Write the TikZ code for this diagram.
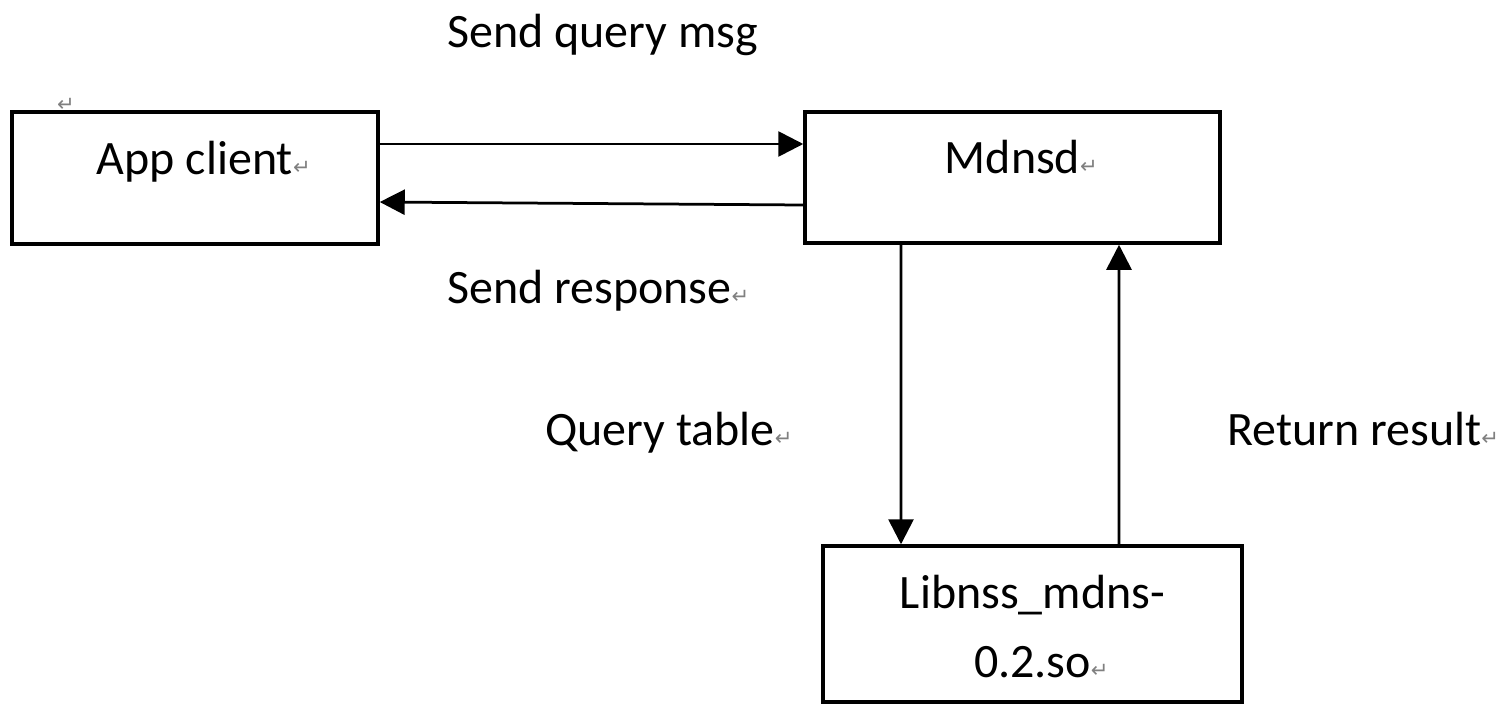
\documentclass[tikz,border=0pt]{standalone}
\usepackage{fontspec}
\setmainfont{Carlito}
\newfontfamily\markfont{DejaVu Sans}
\usetikzlibrary{arrows.meta,positioning}
\newcommand{\retmark}{\rlap{\markfont\fontsize{12}{12}\selectfont\textcolor{gray}{↵}}}

\begin{document}
\begin{tikzpicture}[
        blockbox/.style={rectangle, draw, line width=\boxlinewidth, align=center, font=\fontsize{27.3}{39}\selectfont},
        flowarrow/.style={-{Triangle[length=0.5cm, width=0.5cm]}, line width=\arrowlinewidth},
        msglabel/.style={anchor=base west, inner sep=0pt, font=\fontsize{27.3}{33}\selectfont}
    ]
        \def\boxlinewidth{0.07cm}
        \def\arrowlinewidth{0.055cm}

        \useasboundingbox (0, 0) rectangle (30.2, -14.08);

        \node[blockbox, minimum width=7.32cm, minimum height=2.64cm, text height=0.62cm, text depth=0.78cm] (app) at (3.9, -3.56) {App client\retmark};
        \node[blockbox, minimum width=8.3cm, minimum height=2.62cm, text height=0.62cm, text depth=0.8cm] (mdnsd) at (20.25, -3.55) {Mdnsd\retmark};
        \node[blockbox, minimum width=8.38cm, minimum height=3.12cm, text height=2.12cm, text depth=0cm] (libnss) at (20.65, -12.48) {Libnss\_mdns-\\0.2.so\retmark};
        \node[inner sep=0pt, font=\markfont\fontsize{12}{12}\selectfont, text=gray] (topmark) at (1.32, -2.1) {↵};

        \node[msglabel] (querymsg) at (8.94, -0.94) {Send query msg};
        \node[msglabel] (response) at (8.94, -6.06) {Send response\retmark};
        \node[msglabel] (querytbl) at (10.9, -8.9) {Query table\retmark};
        \node[msglabel] (result) at (24.54, -8.9) {Return result\retmark};

        \draw[flowarrow] ([yshift=0.68cm]app.east) -- ([yshift=0.67cm]mdnsd.west);
        \draw[flowarrow] ([yshift=-0.55cm]mdnsd.west) -- ([yshift=-0.48cm]app.east);
        \draw[flowarrow] ([xshift=-2.23cm]mdnsd.south) -- ([xshift=-2.63cm]libnss.north);
        \draw[flowarrow] ([xshift=1.73cm]libnss.north) -- ([xshift=2.13cm]mdnsd.south);
    \end{tikzpicture}
\end{document}
